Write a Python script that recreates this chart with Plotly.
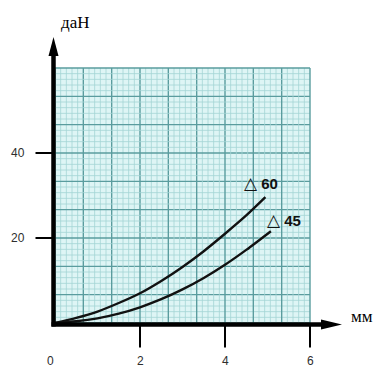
import numpy as np
import plotly.graph_objects as go

# Deflection (mm) vs. load (daN) for the two spring grades
x_60 = [0, 0.5, 1.0, 1.5, 2.0, 2.5, 3.0, 3.5, 4.0, 4.5, 4.95]
y_60 = [0, 1.2, 2.7, 4.7, 7.0, 9.9, 13.2, 16.9, 21.0, 25.3, 29.6]
x_45 = [0, 0.5, 1.0, 1.5, 2.0, 2.5, 3.0, 3.5, 4.0, 4.5, 5.08]
y_45 = [0, 0.4, 1.1, 2.2, 3.7, 5.6, 7.9, 10.6, 13.7, 17.2, 21.6]
series_labels = ["60", "45"]

x_ticks = [2, 4, 6]
x_tick_labels = ["2", "4", "6"]
y_ticks = [20, 40]
y_tick_labels = ["20", "40"]
x_title = "мм"
y_title = "даН"

X_MAX, Y_MAX = 6, 60          # extent of the graph paper
DIV = 9                       # major squares per side
SUB = 5                       # minor lines per major square

W, H = 377, 367
PX_X = 255 / X_MAX            # pixels per mm
PX_Y = 255 / Y_MAX            # pixels per daN
ox, oy = 55, 323              # origin in pixels
dx = 1 / PX_X                 # one pixel in x data units
dy = 1 / PX_Y                 # one pixel in y data units

fig = go.Figure()

# graph paper background
shapes = [dict(type="rect", x0=0, y0=0, x1=X_MAX, y1=Y_MAX, xref="x", yref="y",
               fillcolor="#def5f5", line=dict(width=0), layer="below")]

n = DIV * SUB
for i in range(n + 1):
    major = i % SUB == 0
    col = "#5a9c9e" if major else "#a3d4d4"
    w = 1.4 if major else 0.8
    gx = X_MAX * i / n
    gy = Y_MAX * i / n
    shapes.append(dict(type="line", x0=gx, x1=gx, y0=0, y1=Y_MAX, xref="x", yref="y",
                       line=dict(color=col, width=w), layer="below"))
    shapes.append(dict(type="line", x0=0, x1=X_MAX, y0=gy, y1=gy, xref="x", yref="y",
                       line=dict(color=col, width=w), layer="below"))

# axes with arrowheads
ax_x = -1.5 * dx
ax_y = -1.5 * dy
shapes.append(dict(type="line", x0=ax_x, x1=ax_x, y0=ax_y - 2 * dy, y1=Y_MAX + 14 * dy,
                   xref="x", yref="y", line=dict(color="black", width=4.5)))
shapes.append(dict(type="line", x0=ax_x - 2 * dx, x1=X_MAX + 12 * dx, y0=ax_y, y1=ax_y,
                   xref="x", yref="y", line=dict(color="black", width=4.5)))
tip_y = Y_MAX + 31 * dy
base_y = Y_MAX + 12 * dy
shapes.append(dict(type="path", xref="x", yref="y", fillcolor="black", line=dict(width=0),
                   path=f"M {ax_x},{tip_y} L {ax_x - 5 * dx},{base_y} L {ax_x + 5 * dx},{base_y} Z"))
tip_x = X_MAX + 32 * dx
base_x = X_MAX + 11 * dx
shapes.append(dict(type="path", xref="x", yref="y", fillcolor="black", line=dict(width=0),
                   path=f"M {tip_x},{ax_y} L {base_x},{ax_y + 5 * dy} L {base_x},{ax_y - 5 * dy} Z"))

# tick marks
for t in x_ticks:
    shapes.append(dict(type="line", x0=t, x1=t, y0=ax_y, y1=ax_y - 23 * dy, xref="x", yref="y",
                       line=dict(color="black", width=2)))
for t in y_ticks:
    shapes.append(dict(type="line", x0=ax_x, x1=ax_x - 18 * dx, y0=t, y1=t, xref="x", yref="y",
                       line=dict(color="black", width=2)))

# load curves
for xs, ys in [(x_60, y_60), (x_45, y_45)]:
    fig.add_trace(go.Scatter(x=xs, y=ys, mode="lines", line=dict(color="#111", width=2.4,
                             shape="spline", smoothing=0.8), hoverinfo="skip", showlegend=False))

annotations = []
tick_font = dict(family="Liberation Sans, Arial", size=12, color="#2e2e2e")
annotations.append(dict(x=-5 * dx, y=ax_y - 36 * dy, text="0", showarrow=False, font=tick_font,
                        xanchor="center", yanchor="middle"))
for t, lab in zip(x_ticks, x_tick_labels):
    annotations.append(dict(x=t, y=ax_y - 36 * dy, text=lab, showarrow=False, font=tick_font,
                            xanchor="center", yanchor="middle"))
for t, lab in zip(y_ticks, y_tick_labels):
    annotations.append(dict(x=ax_x - 27 * dx, y=t, text=lab, showarrow=False, font=tick_font,
                            xanchor="right", yanchor="middle"))

serif = dict(family="Liberation Serif, Times New Roman", size=17, color="black")
annotations.append(dict(x=20 * dx, y=Y_MAX + 46 * dy, text=y_title, showarrow=False, font=serif,
                        xanchor="center", yanchor="middle"))
annotations.append(dict(x=X_MAX + 52 * dx, y=ax_y + 8 * dy, text=x_title, showarrow=False, font=serif,
                        xanchor="center", yanchor="middle"))

lab_font = dict(family="Liberation Sans, Arial", size=15, color="#111")
for xs, ys, lab, off in [(x_60, y_60, series_labels[0], (-23, 14)), (x_45, y_45, series_labels[1], (-6, 11))]:
    text = f"<span style='font-family:DejaVu Sans;font-size:17px'>△</span> <b>{lab}</b>"
    annotations.append(dict(x=xs[-1] + off[0] * dx, y=ys[-1] + off[1] * dy, text=text, showarrow=False,
                            font=lab_font, xanchor="left", yanchor="middle"))

fig.update_layout(
    width=W, height=H, autosize=False,
    margin=dict(l=0, r=0, t=0, b=0),
    paper_bgcolor="white", plot_bgcolor="white",
    xaxis=dict(range=[-ox * dx, (W - ox) * dx], visible=False, fixedrange=True),
    yaxis=dict(range=[-(H - oy) * dy, oy * dy], visible=False, fixedrange=True),
    shapes=shapes, annotations=annotations,
)

fig.write_html("out.html")
